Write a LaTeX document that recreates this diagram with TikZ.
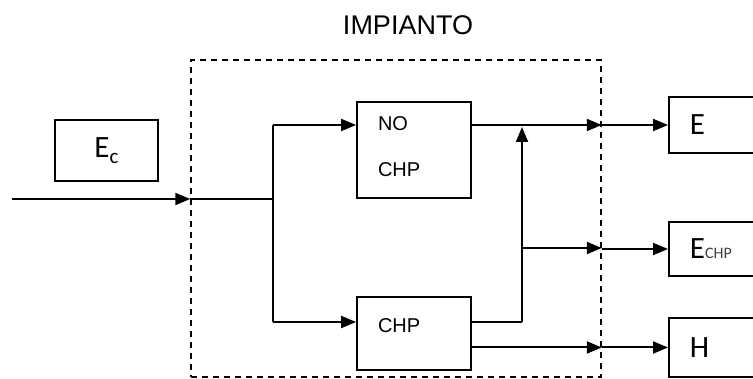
\documentclass[tikz,border=0pt]{standalone}
\usepackage{fontspec}
\setmainfont{Liberation Sans}
\newfontfamily\calib{Carlito}
\usetikzlibrary{arrows.meta}
\begin{document}
\begin{tikzpicture}[x=1pt,y=-1pt,line width=2pt,
  blk/.style={draw,line width=1.8pt,inner sep=0pt},
  outbox/.style={blk,anchor=west,text width=100pt,inner xsep=21pt,font=\fontsize{31}{33}\calib},
  flow/.style={-{Triangle[length=15pt,width=12pt]}},
  lbl/.style={font=\fontsize{20}{22}\selectfont,inner sep=0pt,anchor=west}]
  \path[use as bounding box,clip] (0,0) rectangle (753,379);
  % plant frame and title
  \node[font=\fontsize{27}{30}\selectfont] (title) at (408,25) {IMPIANTO};
  \node[draw,line width=1.5pt,dash pattern=on 6pt off 5pt,minimum width=410pt,minimum height=317pt] (plant) at (396,218.5) {};
  \node[blk,minimum width=103pt,minimum height=61pt,font=\fontsize{31}{33}\calib] (ec) at (106.5,150.5) {E\raisebox{-6pt}{\fontsize{21}{21}\selectfont c}};
  % units
  \node[blk,minimum width=114pt,minimum height=96pt] (nochp) at (414,150) {};
  \node[lbl] (nochpa) at (377,124) {NO}; \node[lbl] (nochpb) at (377,170) {CHP};
  \node[blk,minimum width=114pt,minimum height=73pt] (chp) at (414,333.5) {};
  \node[lbl] (chpa) at (377,326) {CHP};
  % outputs
  \node[outbox,minimum height=56pt] (eout) at (668,125) {E};
  \node[outbox,minimum height=54pt] (echp) at (668,249) {E\textcolor{black!75}{\fontsize{16}{16}\selectfont CHP}};
  \node[outbox,minimum height=59pt] (hout) at (668,347.5) {H};
  % flows
  \coordinate (in) at (12,199); \coordinate (split) at (273,199);
  \coordinate (s1) at (273,125); \coordinate (s2) at (273,322);
  \coordinate (up) at (522,322); \coordinate (top) at (522,127); \coordinate (br) at (522,248);
  \draw[flow] (in) -- (in -| plant.west); \draw (in -| plant.west) -- (split);
  \draw (s1) -- (s2);
  \draw[flow] (s1) -- (s1 -| nochp.west); \draw[flow] (s2) -- (s2 -| chp.west);
  \draw (chp.east |- s2) -- (up); \draw[flow] (up) -- (top);
  \draw[flow] (nochp.east |- eout) -- (eout -| plant.east);
  \draw[flow] (br) -- (br -| plant.east);
  \draw[flow] (chp.east |- hout) -- (hout -| plant.east);
  \foreach \o in {eout,echp,hout} \draw[flow] (\o -| plant.east) -- (\o.west);
\end{tikzpicture}
\end{document}
